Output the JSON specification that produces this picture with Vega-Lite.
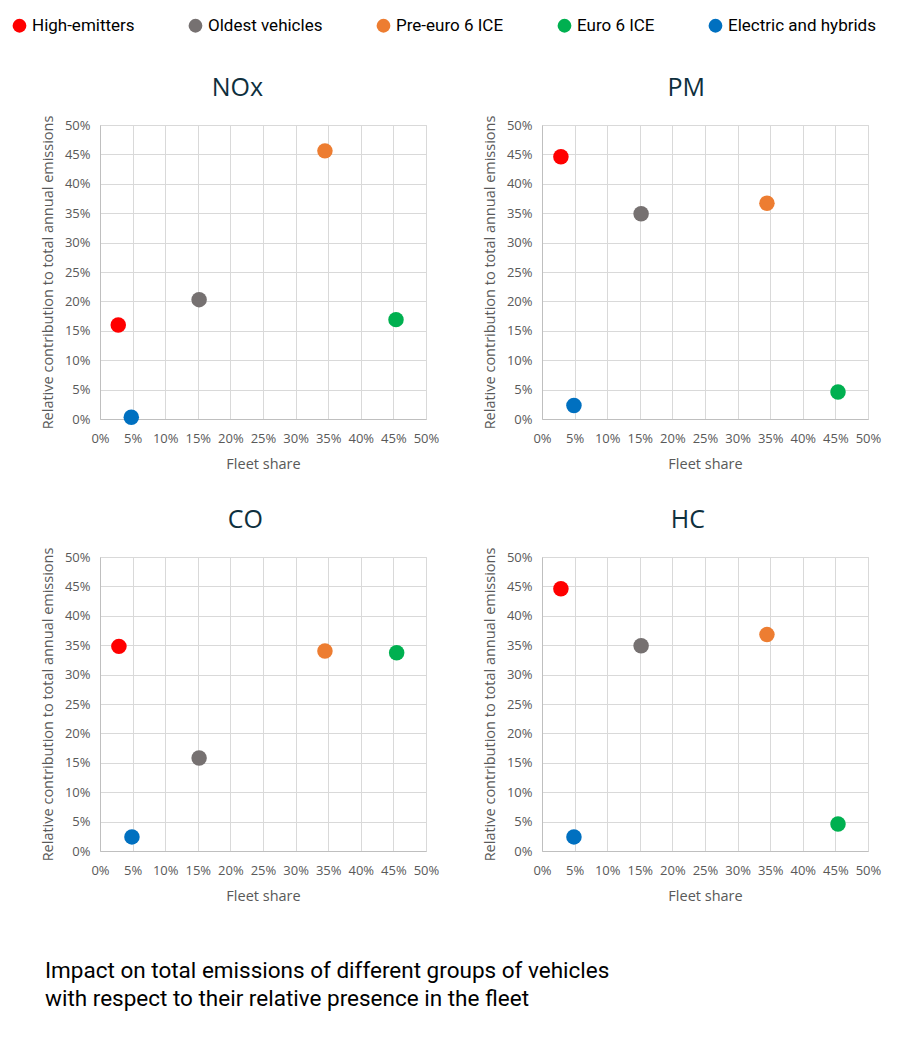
{
  "$schema": "https://vega.github.io/schema/vega-lite/v6.json",
  "background": "white",
  "padding": {"left": 11, "top": 17, "right": 20, "bottom": 20},
  "title": {
    "text": ["Impact on total emissions of different groups of vehicles", "with respect to their relative presence in the fleet"],
    "orient": "bottom",
    "anchor": "start",
    "offset": 57,
    "fontSize": 22.5,
    "fontWeight": "normal",
    "font": "Liberation Sans Narrow, Roboto",
    "color": "#000000",
    "lineHeight": 28,
    "dx": 34
  },
  "data": {
    "values": [
      {"pollutant": "NOx", "group": "High-emitters", "share": 0.028, "contribution": 0.160},
      {"pollutant": "NOx", "group": "Oldest vehicles", "share": 0.152, "contribution": 0.203},
      {"pollutant": "NOx", "group": "Pre-euro 6 ICE", "share": 0.345, "contribution": 0.456},
      {"pollutant": "NOx", "group": "Euro 6 ICE", "share": 0.454, "contribution": 0.169},
      {"pollutant": "NOx", "group": "Electric and hybrids", "share": 0.048, "contribution": 0.003},
      {"pollutant": "PM", "group": "High-emitters", "share": 0.029, "contribution": 0.446},
      {"pollutant": "PM", "group": "Oldest vehicles", "share": 0.152, "contribution": 0.349},
      {"pollutant": "PM", "group": "Pre-euro 6 ICE", "share": 0.345, "contribution": 0.367},
      {"pollutant": "PM", "group": "Euro 6 ICE", "share": 0.454, "contribution": 0.046},
      {"pollutant": "PM", "group": "Electric and hybrids", "share": 0.049, "contribution": 0.023},
      {"pollutant": "CO", "group": "High-emitters", "share": 0.029, "contribution": 0.348},
      {"pollutant": "CO", "group": "Oldest vehicles", "share": 0.152, "contribution": 0.158},
      {"pollutant": "CO", "group": "Pre-euro 6 ICE", "share": 0.345, "contribution": 0.340},
      {"pollutant": "CO", "group": "Euro 6 ICE", "share": 0.455, "contribution": 0.337},
      {"pollutant": "CO", "group": "Electric and hybrids", "share": 0.049, "contribution": 0.024},
      {"pollutant": "HC", "group": "High-emitters", "share": 0.029, "contribution": 0.446},
      {"pollutant": "HC", "group": "Oldest vehicles", "share": 0.152, "contribution": 0.349},
      {"pollutant": "HC", "group": "Pre-euro 6 ICE", "share": 0.345, "contribution": 0.368},
      {"pollutant": "HC", "group": "Euro 6 ICE", "share": 0.454, "contribution": 0.046},
      {"pollutant": "HC", "group": "Electric and hybrids", "share": 0.049, "contribution": 0.024}
    ]
  },
  "facet": {
    "field": "pollutant",
    "type": "nominal",
    "sort": ["NOx", "PM", "CO", "HC"],
    "header": {
      "title": null,
      "labelFontSize": 25,
      "labelColor": "#0e2f3d",
      "labelFont": "Open Sans",
      "labelAlign": "right",
      "labelPadding": 14
    }
  },
  "columns": 2,
  "spacing": {"column": 41, "row": 36},
  "resolve": {"axis": {"x": "independent", "y": "independent"}},
  "spec": {
    "width": 326,
    "height": 294,
    "mark": {"type": "circle", "size": 240, "opacity": 1},
    "encoding": {
      "x": {
        "field": "share",
        "type": "quantitative",
        "title": "Fleet share",
        "scale": {"domain": [0, 0.5], "nice": false},
        "axis": {"format": ".0%", "values": [0, 0.05, 0.1, 0.15, 0.2, 0.25, 0.3, 0.35, 0.4, 0.45, 0.5], "labelFlush": false}
      },
      "y": {
        "field": "contribution",
        "type": "quantitative",
        "title": "Relative contribution to total annual emissions",
        "scale": {"domain": [0, 0.5], "nice": false},
        "axis": {"format": ".0%", "values": [0, 0.05, 0.1, 0.15, 0.2, 0.25, 0.3, 0.35, 0.4, 0.45, 0.5], "labelFlush": false}
      },
      "color": {
        "field": "group",
        "type": "nominal",
        "title": null,
        "scale": {
          "domain": ["High-emitters", "Oldest vehicles", "Pre-euro 6 ICE", "Euro 6 ICE", "Electric and hybrids"],
          "range": ["#ff0000", "#767171", "#ed7d31", "#00b050", "#0070c0"]
        },
        "legend": {
          "orient": "none",
          "legendX": -89,
          "legendY": -108,
          "direction": "horizontal",
          "symbolType": "circle",
          "symbolSize": 190,
          "labelFontSize": 17,
          "labelFont": "Liberation Sans Narrow, Roboto",
          "labelColor": "#000000",
          "columnPadding": 52
        }
      }
    }
  },
  "config": {
    "view": {"stroke": "#d9d9d9"},
    "axis": {
      "grid": true,
      "gridColor": "#d9d9d9",
      "domainColor": "#bfbfbf",
      "ticks": false,
      "labelFont": "Open Sans",
      "labelFontSize": 13,
      "labelColor": "#595959",
      "titleFont": "Open Sans",
      "titleFontSize": 14.5,
      "titleFontWeight": "normal",
      "titleColor": "#595959"
    },
    "axisX": {"labelPadding": 13, "titlePadding": 12},
    "axisY": {"labelPadding": 10, "titlePadding": 9}
  }
}
